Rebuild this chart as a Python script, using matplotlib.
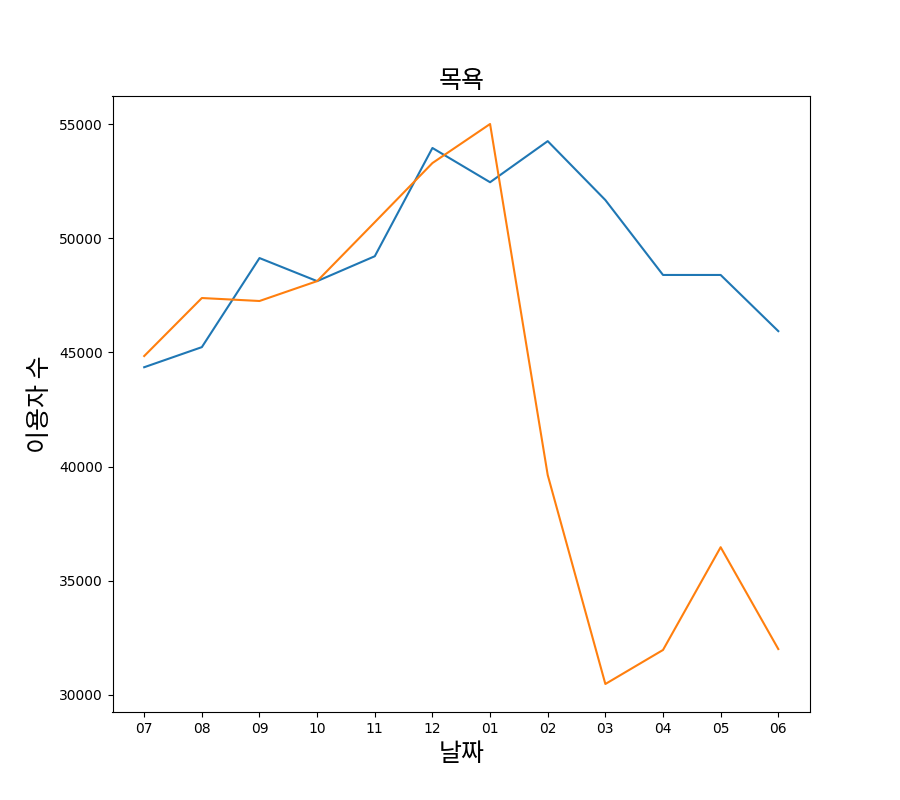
import matplotlib.pyplot as plt

plt.rcParams['font.family'] = ['Noto Sans CJK KR', 'DejaVu Sans']

months = ['07', '08', '09', '10', '11', '12', '01', '02', '03', '04', '05', '06']
users_prev = [44350, 45230, 49130, 48120, 49210, 53950, 52450, 54250, 51670, 48390, 48390, 45930]
users_curr = [44840, 47380, 47250, 48120, 50700, 53290, 55000, 39630, 30480, 31970, 36470, 32010]

fig, ax = plt.subplots(figsize=(9, 8), dpi=100)
ax.plot(months, users_prev)
ax.plot(months, users_curr)
ax.set_title('목욕', fontsize=18)
ax.set_xlabel('날짜', fontsize=18)
ax.set_ylabel('이용자 수', fontsize=18)
for lab in ax.get_xticklabels() + ax.get_yticklabels():
    lab.set_family('DejaVu Sans')
fig.savefig('out.png')
